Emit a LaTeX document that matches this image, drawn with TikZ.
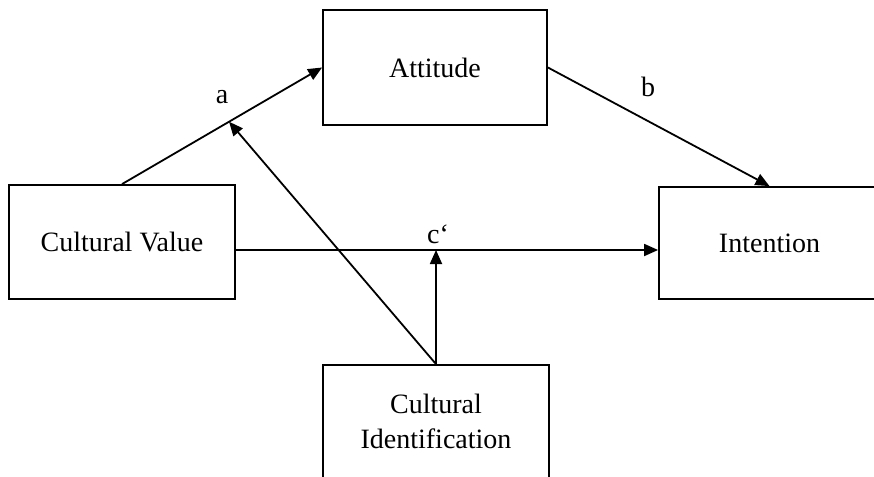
\documentclass[tikz,border=0pt]{standalone}
\usepackage{fontspec}
\setmainfont{Liberation Serif}
\usetikzlibrary{arrows.meta,calc}
\begin{document}
\begin{tikzpicture}[x=1pt,y=-1pt,
  box/.style={draw=black,line width=1.8pt,inner sep=0pt,
    font=\fontsize{28}{35}\selectfont,align=center},
  txt/.style={font=\fontsize{28}{35}\selectfont,align=center,inner sep=0pt},
  arr/.style={line width=1.8pt,-{Triangle[length=14pt,width=12pt]}},
  lbl/.style={font=\fontsize{28}{34}\selectfont,inner sep=0pt}]
  \clip (0,0) rectangle (874,476);
  \fill[white] (0,0) rectangle (874,476);

  % boxes
  \node[box,minimum width=224pt,minimum height=115pt] (att) at (435,67.5) {Attitude};
  \node[box,minimum width=226pt,minimum height=114pt] (cv) at (122,242) {Cultural Value};
  \node[box,minimum width=221pt,minimum height=112pt] (int) at (769.5,243) {Intention};
  \node[box,minimum width=226pt,minimum height=124pt] (ci) at (436,427) {};
  \node[txt] (citxt) at (436,421) {Cultural\\Identification};

  % paths a, b, c'
  \coordinate (cstart) at ([yshift=-8pt]cv.east);
  \draw[arr] (cv.north) -- (att.west);
  \draw[arr] (att.east) -- (int.north);
  \draw[arr] (cstart) -- (int.west |- cstart);

  % moderation by cultural identification
  \coordinate (amid) at ($(cv.north)!0.535!(att.west)$);
  \draw[arr] (ci.north) -- (amid);
  \draw[arr] (ci.north) -- (ci.north |- cstart);

  % labels
  \node[lbl] (la) at (222,97) {a};
  \node[lbl] (lb) at (648,87) {b};
  \node[lbl] (lc) at (438,234) {c‘};
\end{tikzpicture}
\end{document}
